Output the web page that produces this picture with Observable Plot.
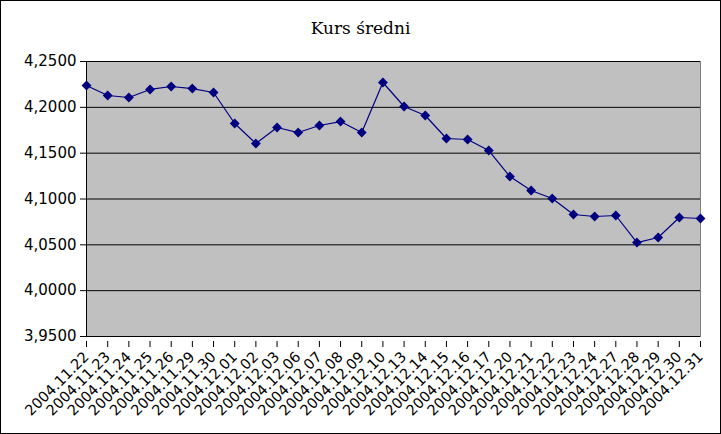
<!DOCTYPE html>
<html>
<head>
<meta charset="utf-8">
<script src="https://cdn.jsdelivr.net/npm/d3@7"></script>
<script src="https://cdn.jsdelivr.net/npm/@observablehq/plot@0.6"></script>
<style>
  html, body { margin: 0; padding: 0; background: #fff; }
  #box { position: relative; width: 719px; height: 432px; border: 1px solid #000; background: #fff; overflow: hidden; }
  #title { height: 40px; line-height: 54px; text-align: center; font-family: "DejaVu Serif", serif; font-size: 17px; color: #000; }
  svg { display: block; }
</style>
</head>
<body>
<div id="box">
  <div id="title">Kurs średni</div>
  <div id="chart"></div>
</div>
<script>
const dates = ["2004.11.22","2004.11.23","2004.11.24","2004.11.25","2004.11.26","2004.11.29","2004.11.30","2004.12.01","2004.12.02","2004.12.03","2004.12.06","2004.12.07","2004.12.08","2004.12.09","2004.12.10","2004.12.13","2004.12.14","2004.12.15","2004.12.16","2004.12.17","2004.12.20","2004.12.21","2004.12.22","2004.12.23","2004.12.24","2004.12.27","2004.12.28","2004.12.29","2004.12.30","2004.12.31"];
const values = [4.2238,4.2129,4.2107,4.2195,4.2227,4.2205,4.2162,4.1824,4.1605,4.1780,4.1725,4.1802,4.1845,4.1725,4.2271,4.2009,4.1911,4.1660,4.1649,4.1529,4.1245,4.1093,4.1005,4.0831,4.0809,4.0820,4.0525,4.0580,4.0798,4.0787];
const yTicks = [3.95,4.00,4.05,4.10,4.15,4.20,4.25];

const data = dates.map((d, i) => ({date: d, value: values[i]}));
const fmt = v => v.toFixed(4).replace(".", ",");

const chart = Plot.plot({
  width: 719,
  height: 392,
  marginTop: 20,
  marginBottom: 97,
  marginLeft: 85,
  marginRight: 20,
  style: {fontFamily: "DejaVu Sans, sans-serif", fontSize: "14px", color: "#000", background: "#fff"},
  x: {type: "point", domain: dates, padding: 0, round: false, label: null},
  y: {domain: [3.95, 4.25], label: null},
  marks: [
    Plot.frame({fill: "#C0C0C0", stroke: "#808080"}),
    Plot.ruleY(yTicks, {stroke: "#000", strokeWidth: 1}),
    Plot.ruleX([dates[0]], {stroke: "#000", strokeWidth: 1}),
    Plot.axisY({ticks: yTicks, tickFormat: fmt, tickSize: 6, tickPadding: 4, fontSize: 15, stroke: "#000", label: null}),
    Plot.axisX({tickRotate: -45, tickSize: 6, tickPadding: 7, dy: 5, fontSize: 14.5, stroke: "#000", label: null}),
    Plot.line(data, {x: "date", y: "value", stroke: "#000080", strokeWidth: 1.2}),
    Plot.dot(data, {x: "date", y: "value", symbol: "diamond2", fill: "#000080", stroke: "#000080", r: 3.5})
  ]
});
document.getElementById("chart").appendChild(chart);
</script>
</body>
</html>
